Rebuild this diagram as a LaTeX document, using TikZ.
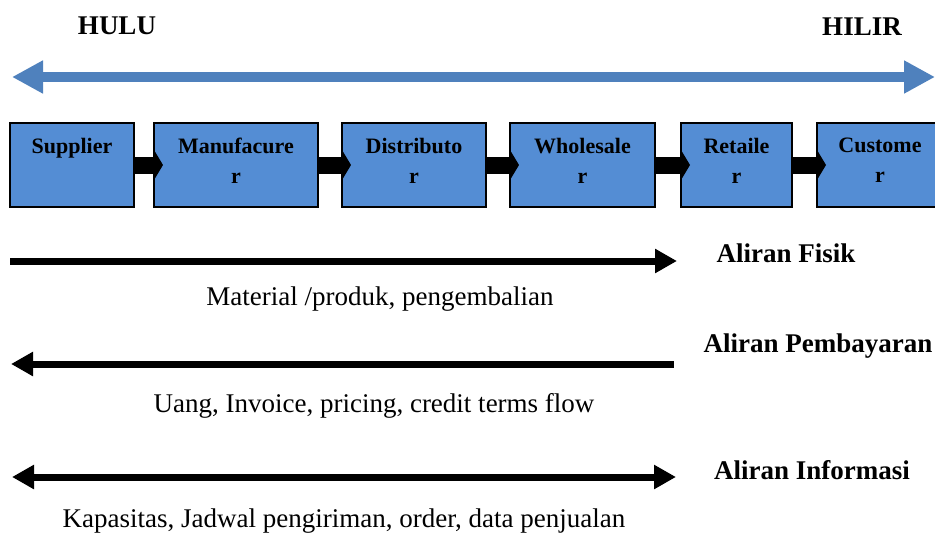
\documentclass[tikz,border=0pt]{standalone}
\usepackage{fontspec}
\setmainfont{Liberation Serif}
\usetikzlibrary{arrows.meta}
\definecolor{boxblue}{RGB}{84,141,212}
\definecolor{arrowblue}{RGB}{79,129,189}
\tikzset{
  flowtip/.tip={Triangle[length=22pt,width=23pt]},
  bluetip/.tip={Triangle[length=31pt,width=31pt]},
  stagebox/.style={draw=black, line width=2pt, fill=boxblue, minimum height=84pt, inner sep=0pt, outer sep=0pt},
  stagetext/.style={anchor=north, align=center, inner sep=0pt, font=\bfseries\fontsize{22}{30}\selectfont},
  blockarrow/.style={line width=17pt, -{Triangle[length=10pt,width=33pt]}},
  flowarrow/.style={line width=7pt},
  headlbl/.style={font=\bfseries\fontsize{27}{30}\selectfont, inner sep=0pt},
  flowlbl/.style={font=\bfseries\fontsize{27}{30}\selectfont, inner sep=0pt},
  desclbl/.style={font=\fontsize{27}{30}\selectfont, inner sep=0pt}
}
\begin{document}
\begin{tikzpicture}[x=1pt,y=-1pt]
\clip (0,0) rectangle (935,535);
\fill[white] (0,0) rectangle (935,535);

% headers
\node[headlbl] (hulu) at (117,26) {HULU};
\node[headlbl] (hilir) at (862,27) {HILIR};

% blue double arrow
\coordinate (bl) at (12,77);
\coordinate (br) at (935,77);
\draw[arrowblue, line width=10pt, {bluetip}-{bluetip}] (bl) -- (br);

% stage boxes
\node[stagebox, minimum width=124pt] (b1) at (72,165) {};
\node[stagebox, minimum width=164pt] (b2) at (236,165) {};
\node[stagebox, minimum width=144pt] (b3) at (414,165) {};
\node[stagebox, minimum width=145pt] (b4) at (582.5,165) {};
\node[stagebox, minimum width=111pt] (b5) at (736.5,165) {};
\node[stagebox, minimum width=126pt] (b6) at (880,165) {};

\node[stagetext] (t1) at ([yshift=-15pt]b1.north) {Supplier};
\node[stagetext] (t2) at ([yshift=-15pt]b2.north) {Manufacure\\r};
\node[stagetext] (t3) at ([yshift=-15pt]b3.north) {Distributo\\r};
\node[stagetext] (t4) at ([yshift=-15pt]b4.north) {Wholesale\\r};
\node[stagetext] (t5) at ([yshift=-15pt]b5.north) {Retaile\\r};
\node[stagetext] (t6) at ([yshift=-15pt]b6.north) {Custome\\r};

% block arrows between boxes
\draw[blockarrow] (b1.east) -- ([xshift=9pt]b2.west);
\draw[blockarrow] (b2.east) -- ([xshift=9pt]b3.west);
\draw[blockarrow] (b3.east) -- ([xshift=9pt]b4.west);
\draw[blockarrow] (b4.east) -- ([xshift=9pt]b5.west);
\draw[blockarrow] (b5.east) -- ([xshift=9pt]b6.west);

% flows
\coordinate (fa) at (10,261);
\coordinate (fb) at (677,261);
\draw[flowarrow, -{flowtip}] (fa) -- (fb);
\node[flowlbl] (lf) at (786,253) {Aliran Fisik};
\node[desclbl] (df) at (380,299) {Material /produk, pengembalian};

\coordinate (pa) at (11,364);
\coordinate (pb) at (674,364);
\draw[flowarrow, {flowtip}-] (pa) -- (pb);
\node[flowlbl] (lp) at (818,346) {Aliran Pembayaran};
\node[desclbl] (dp) at (374,406) {Uang, Invoice, pricing, credit terms flow};

\coordinate (ia) at (12,477);
\coordinate (ib) at (676,477);
\draw[flowarrow, {flowtip}-{flowtip}] (ia) -- (ib);
\node[flowlbl] (li) at (812,470) {Aliran Informasi};
\node[desclbl] (di) at (344,521) {Kapasitas, Jadwal pengiriman, order, data penjualan};
\end{tikzpicture}
\end{document}
